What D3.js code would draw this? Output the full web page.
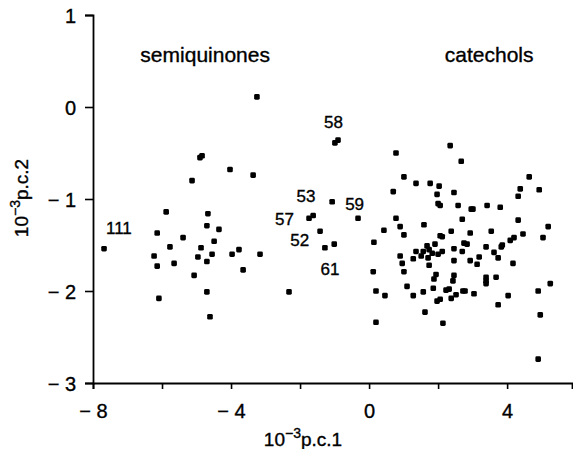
<!DOCTYPE html>
<html><head><meta charset="utf-8">
<script src="https://cdn.jsdelivr.net/npm/d3@7/dist/d3.min.js"></script>
<style>body{margin:0;background:#fff}svg{display:block}text{font-family:"Liberation Sans",Arial,sans-serif;fill:#000;stroke:#000;stroke-width:0.35px}</style>
</head><body><svg id="c" width="573" height="449"></svg>
<script>
// ---- data (10^-3 p.c.1 , 10^-3 p.c.2) ----
const semiquinones = [
 [-3.25,0.11],[-4.90,-0.55],[-4.84,-0.53],[-4.03,-0.68],[-3.36,-0.74],[-5.13,-0.80],
 [-5.88,-1.14],[-4.67,-1.16],[-4.70,-1.29],[-4.35,-1.33],[-6.14,-1.37],[-5.39,-1.42],
 [-4.49,-1.46],[-7.68,-1.54],[-5.77,-1.52],[-4.87,-1.53],[-6.23,-1.62],[-4.96,-1.63],
 [-4.55,-1.60],[-3.97,-1.60],[-3.77,-1.55],[-3.16,-1.60],[-6.14,-1.73],[-5.65,-1.70],
 [-4.70,-1.68],[-5.07,-1.83],[-3.65,-1.77],[-4.70,-2.01],[-6.09,-2.08],[-4.61,-2.28],
 [-2.32,-2.01]
];
const intermediates = [
 [-0.99,-0.39],[-0.90,-0.36],[-1.07,-1.03],[-0.32,-1.21],[-1.74,-1.21],[-1.62,-1.18],
 [-1.42,-1.35],[-1.28,-1.53],[-1.01,-1.49]
];
const catechols = [
 [0.14,-1.47],[0.43,-1.34],[0.12,-1.79],[0.20,-2.00],[0.20,-2.34],[2.35,-0.42],
 [0.78,-0.50],[2.67,-0.59],[1.01,-0.76],[1.36,-0.83],[1.77,-0.83],[2.03,-0.86],
 [0.70,-0.92],[1.97,-0.95],[2.46,-0.93],[2.00,-1.05],[2.06,-1.07],[2.58,-1.07],
 [0.78,-1.21],[2.70,-1.22],[0.90,-1.30],[1.59,-1.28],[2.38,-1.35],[1.01,-1.39],
 [2.06,-1.40],[2.12,-1.41],[2.75,-1.48],[1.68,-1.51],[1.91,-1.49],[1.36,-1.57],
 [1.57,-1.57],[1.74,-1.55],[1.83,-1.59],[2.00,-1.60],[2.12,-1.57],[2.46,-1.54],
 [2.70,-1.57],[1.51,-1.62],[0.90,-1.62],[1.28,-1.65],[1.71,-1.64],[1.74,-1.72],
 [2.46,-1.67],[0.96,-1.70],[1.01,-1.79],[1.94,-1.82],[1.88,-1.87],[2.46,-1.83],
 [2.43,-1.89],[1.10,-1.95],[1.86,-1.97],[2.23,-1.99],[2.32,-1.98],[0.46,-2.05],
 [1.28,-2.05],[1.57,-2.01],[1.97,-2.11],[2.06,-2.09],[2.38,-2.08],[2.52,-2.04],
 [2.72,-2.00],[1.62,-2.23],[2.14,-2.35],
 [4.64,-0.76],[4.38,-0.89],[4.93,-0.90],[4.32,-0.97],[2.96,-1.11],[3.01,-1.11],
 [3.42,-1.07],[3.80,-1.09],[4.32,-1.23],[5.19,-1.30],[2.93,-1.37],[3.54,-1.35],
 [5.04,-1.42],[4.46,-1.38],[4.20,-1.42],[4.09,-1.45],[2.84,-1.49],[3.39,-1.52],
 [3.86,-1.50],[3.83,-1.52],[3.62,-1.58],[3.74,-1.64],[3.19,-1.63],[2.93,-1.67],
 [3.13,-1.71],[4.17,-1.70],[3.39,-1.85],[3.39,-1.89],[3.39,-1.92],[3.68,-1.85],
 [2.78,-2.00],[3.04,-2.03],[4.03,-2.05],[3.74,-2.15],[4.90,-2.00],[5.25,-1.92],
 [4.96,-2.26],[4.90,-2.74]
];
const pointLabels = [
 {t:"58",x:-1.03,y:-0.23},{t:"53",x:-1.83,y:-1.03},{t:"59",x:-0.42,y:-1.12},
 {t:"57",x:-2.45,y:-1.28},{t:"52",x:-2.01,y:-1.51},{t:"61",x:-1.13,y:-1.83},
 {t:"111",x:-7.25,y:-1.38}
];
const groupLabels = [{t:"semiquinones",x:-4.75,y:0.49},{t:"catechols",x:3.48,y:0.49}];
const xTicks = [-8,-6,-4,-2,0,2,4];
const xTickLabels = {"-8":"\u2212 8","-4":"\u2212 4","0":"0","4":"4"};
const yTicks = [1,0,-1,-2,-3];
const yTickLabels = {"1":"1","0":"0","-1":"\u2212 1","-2":"\u2212 2","-3":"\u2212 3"};

// ---- chart ----
const svg = d3.select("#c");
const x = d3.scaleLinear().domain([-8,5.88]).range([93,572]);
const y = d3.scaleLinear().domain([-3,1]).range([383,15]);

const xa = svg.append("g").attr("transform","translate(0,383)")
  .call(d3.axisBottom(x).tickValues(xTicks).tickSize(6).tickSizeOuter(6)
    .tickFormat(d => xTickLabels[String(d)] || ""));
xa.selectAll("text").attr("dy",0).attr("y",35).style("font-size","20px");
const ya = svg.append("g").attr("transform","translate(93,0)")
  .call(d3.axisLeft(y).tickValues(yTicks).tickSize(8).tickSizeOuter(8)
    .tickFormat(d => yTickLabels[String(d)]));
ya.selectAll("text").attr("x",-17).attr("dy","0.36em").style("font-size","20px");
svg.selectAll(".domain").attr("stroke","#000").attr("stroke-width",1.8);
svg.selectAll(".tick line").attr("stroke","#000").attr("stroke-width",1.6);
svg.selectAll(".tick text").attr("fill","#000");

const all = semiquinones.concat(intermediates, catechols);
svg.append("g").selectAll("rect").data(all).join("rect")
  .attr("x", d => x(d[0]) - 2.8).attr("y", d => y(d[1]) - 2.8)
  .attr("width",5.6).attr("height",5.6).attr("rx",1.4).attr("fill","#000");

svg.append("g").selectAll("text").data(pointLabels).join("text")
  .attr("x", d => x(d.x)).attr("y", d => y(d.y)).attr("text-anchor","middle")
  .style("font-size","17px").text(d => d.t);
svg.append("g").selectAll("text").data(groupLabels).join("text")
  .attr("x", d => x(d.x)).attr("y", d => y(d.y)).attr("text-anchor","middle")
  .style("font-size","21px").text(d => d.t);

// axis titles
const xt = svg.append("text").attr("x",303).attr("y",446).attr("text-anchor","middle").style("font-size","19px");
xt.append("tspan").text("10");
xt.append("tspan").attr("dy",-8).style("font-size","14px").text("\u22123");
xt.append("tspan").attr("dy",8).text("p.c.1");
const yt = svg.append("text").attr("transform","translate(28,198) rotate(-90)").attr("text-anchor","middle").style("font-size","19px");
yt.append("tspan").text("10");
yt.append("tspan").attr("dy",-8).style("font-size","14px").text("\u22123");
yt.append("tspan").attr("dy",8).text("p.c.2");
</script></body></html>
